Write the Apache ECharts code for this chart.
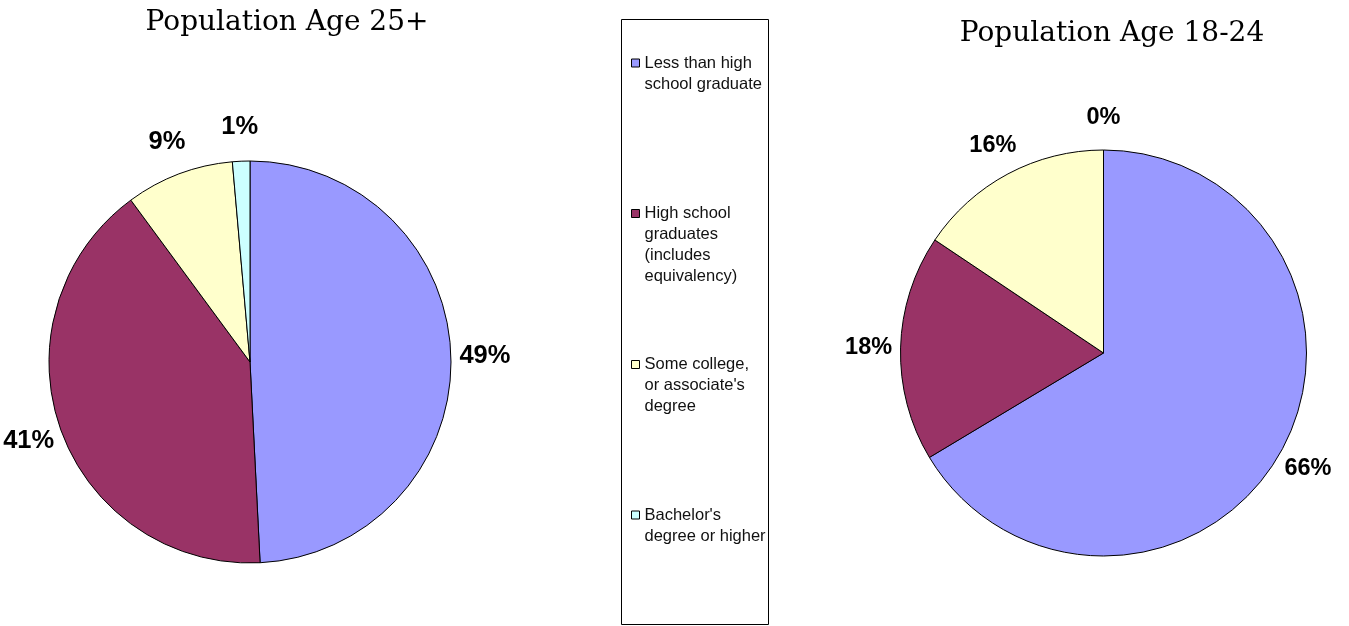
<!DOCTYPE html>
<html>
<head>
<meta charset="utf-8">
<script src="https://cdn.jsdelivr.net/npm/echarts@6/dist/echarts.min.js"></script>
<style>
html,body{margin:0;padding:0;background:#fff;}
#chart{width:1349px;height:626px;}
</style>
</head>
<body>
<div id="chart"></div>
<script>
// ---- data ----
const categories = [
  'Less than high school graduate',
  'High school graduates (includes equivalency)',
  "Some college, or associate's degree",
  "Bachelor's degree or higher"
];
const legendLines = [
  'Less than high\nschool graduate',
  'High school\ngraduates\n(includes\nequivalency)',
  "Some college,\nor associate's\ndegree",
  "Bachelor's\ndegree or higher"
];
const titles = ['Population Age 25+', 'Population Age 18-24'];
const age25plus = [49.2, 40.7, 8.7, 1.4];
const age18to24 = [66.4, 18.0, 15.6, 0];
const colors = ['#9999FF', '#993366', '#FFFFCC', '#CCFFFF'];

// ---- build ----
function toData(vals) {
  return categories.map((c, i) => ({ name: c, value: vals[i] }));
}
const fontSans = '"Liberation Sans", Arial, sans-serif';
const fontSerif = '"DejaVu Serif", serif';

function pieSeries(vals, center, radius) {
  return {
    type: 'pie',
    center: center,
    radius: radius,
    startAngle: 90,
    clockwise: true,
    data: toData(vals),
    label: { show: false },
    labelLine: { show: false },
    itemStyle: { borderColor: '#000', borderWidth: 1 },
    emphasis: { disabled: true },
    silent: true
  };
}
function labelSeries(vals, center, ring, fontSize) {
  return {
    type: 'pie',
    center: center,
    radius: ring,
    startAngle: 90,
    clockwise: true,
    percentPrecision: 0,
    data: toData(vals),
    itemStyle: { color: 'rgba(0,0,0,0)', borderWidth: 0 },
    label: {
      show: true,
      position: 'inside',
      formatter: '{d}%',
      color: '#000',
      fontFamily: fontSans,
      fontWeight: 'bold',
      fontSize: fontSize
    },
    labelLine: { show: false },
    emphasis: { disabled: true },
    silent: true
  };
}
const lineCounts = legendLines.map(s => s.split('\n').length);
const iconCenters = [63, 213.5, 364.5, 515];
const LH = 21;
const legends = categories.map((c, i) => {
  const n = lineCounts[i];
  return {
    data: [c],
    orient: 'vertical',
    left: 631,
    top: iconCenters[i] - (2 * n - 1) * LH / 2,
    padding: 0,
    icon: 'rect',
    itemWidth: 8,
    itemHeight: 8,
    itemGap: 0,
    selectedMode: false,
    itemStyle: { borderColor: '#000', borderWidth: 1 },
    // leading blank lines keep the icon level with the first text line
    formatter: name => '\n'.repeat(n - 1) + legendLines[categories.indexOf(name)],
    textStyle: {
      fontFamily: fontSans,
      fontSize: 16.5,
      color: '#111',
      lineHeight: LH
    }
  };
});

const chart = echarts.init(document.getElementById('chart'), null, { renderer: 'canvas' });
chart.setOption({
  animation: false,
  color: colors,
  title: [
    { text: titles[0], left: 287, top: 9, textAlign: 'center', padding: 0,
      textStyle: { fontFamily: fontSerif, fontSize: 28, fontWeight: 'normal', color: '#000' } },
    { text: titles[1], left: 1112, top: 20, textAlign: 'center', padding: 0,
      textStyle: { fontFamily: fontSerif, fontSize: 28, fontWeight: 'normal', color: '#000' } }
  ],
  legend: legends,
  graphic: [{
    type: 'rect',
    shape: { x: 621.5, y: 19.5, width: 147, height: 605 },
    style: { fill: 'none', stroke: '#000', lineWidth: 1 },
    silent: true
  }],
  series: [
    pieSeries(age25plus, [250, 362], 201),
    pieSeries(age18to24, [1103.5, 353], 203),
    labelSeries(age25plus, [250, 362], [222, 242], 25.5),
    labelSeries(age18to24, [1103.5, 353], [222, 242], 23.5)
  ]
});
</script>
</body>
</html>
